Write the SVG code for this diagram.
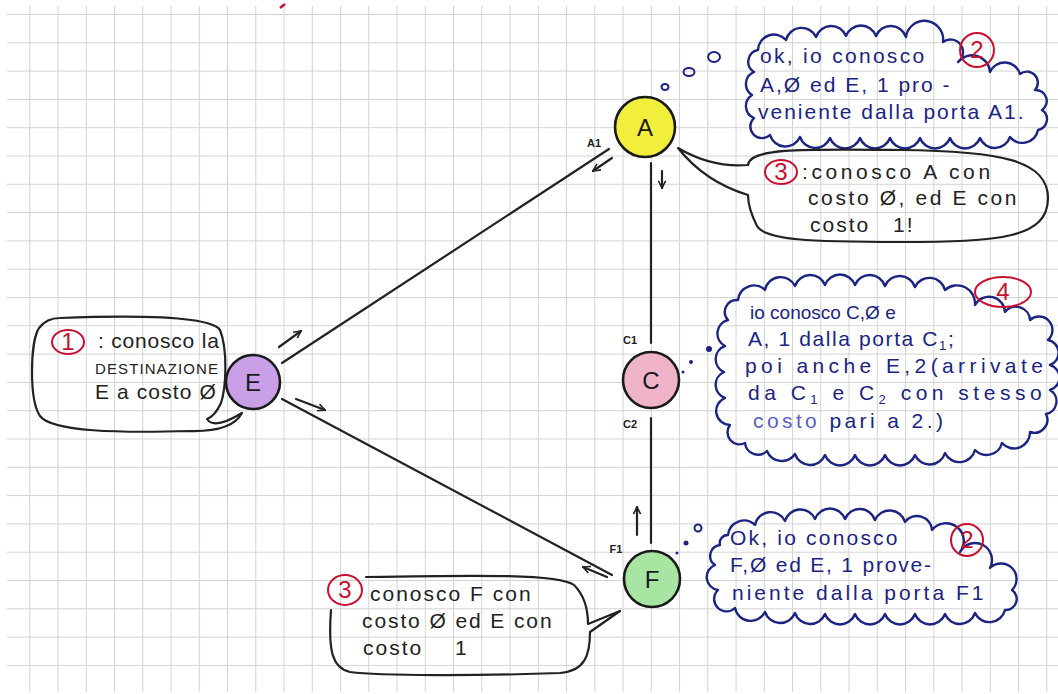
<svg xmlns="http://www.w3.org/2000/svg" width="1058" height="694" viewBox="0 0 1058 694">
<style>
.ink{fill:none;stroke:#222;stroke-width:2.2;stroke-linecap:round;stroke-linejoin:round}
.cloud{fill:none;stroke:#1b2482;stroke-width:2.4;stroke-linejoin:round}
.red{fill:none;stroke:#c8102e;stroke-width:2}
.rt{font-family:"Liberation Sans",Arial,sans-serif;font-size:24px;fill:#c8102e;text-anchor:middle}
.bt{font-family:"Liberation Sans",Arial,sans-serif;font-size:21px;fill:#1b2482}
.kt{font-family:"Liberation Sans",Arial,sans-serif;font-size:21px;fill:#222}
.lab{font-family:"Liberation Sans",Arial,sans-serif;font-size:11px;font-weight:bold;fill:#222;text-anchor:middle}
.node{stroke:#1a1a1a;stroke-width:2.6}
.nt{font-family:"Liberation Sans",Arial,sans-serif;font-size:24px;fill:#1a1a1a;text-anchor:middle}
.dot{fill:none;stroke:#1b2482;stroke-width:2}
</style>
<defs>
<pattern id="grid" x="29.3" y="14" width="28.25" height="28.3" patternUnits="userSpaceOnUse">
<path d="M0.5 0V28.3M0 0.5H28.25" stroke="#d2d2d2" stroke-width="1" fill="none"/>
</pattern>
<marker id="ah" viewBox="0 0 10 10" refX="9" refY="5" markerWidth="9" markerHeight="9" markerUnits="userSpaceOnUse" orient="auto">
<path d="M1,1 L9,5 L1,9" fill="none" stroke="#222" stroke-width="1.8"/>
</marker>
</defs>
<rect width="1058" height="694" fill="#ffffff"/>
<rect x="7" y="6" width="1051" height="686" fill="url(#grid)"/>
<path d="M280,8 L285,4" stroke="#c8102e" stroke-width="2.5" fill="none"/>

<g id="connectors">
<line class="ink" x1="282" y1="363" x2="609" y2="149"/>
<line class="ink" x1="282" y1="399" x2="612" y2="575"/>
<line class="ink" x1="651" y1="163" x2="651" y2="343"/>
<line class="ink" x1="651" y1="418" x2="651" y2="543"/>
<line class="ink" x1="279" y1="347" x2="301" y2="331" marker-end="url(#ah)"/>
<line class="ink" x1="296" y1="399" x2="325" y2="410" marker-end="url(#ah)"/>
<line class="ink" x1="612" y1="158" x2="593" y2="171" marker-end="url(#ah)"/>
<line class="ink" x1="662" y1="171" x2="662" y2="188" marker-end="url(#ah)"/>
<line class="ink" x1="637" y1="535" x2="637" y2="507" marker-end="url(#ah)"/>
<line class="ink" x1="607" y1="577" x2="583" y2="567" marker-end="url(#ah)"/>
<text class="lab" x="594" y="147">A1</text>
<text class="lab" x="630" y="344">C1</text>
<text class="lab" x="630" y="428">C2</text>
<text class="lab" x="616" y="553">F1</text>
</g>

<g id="node-A">
<circle class="node" cx="645" cy="127" r="30" fill="#f2ee3c"/>
<text class="nt" x="645" y="136">A</text>
</g>
<g id="node-C">
<circle class="node" cx="651" cy="380" r="28" fill="#efb4c9"/>
<text class="nt" x="651" y="389">C</text>
</g>
<g id="node-F">
<circle class="node" cx="652" cy="579" r="28" fill="#a8e4a2"/>
<text class="nt" x="652" y="588">F</text>
</g>
<g id="node-E">
<circle class="node" cx="253" cy="382" r="27" fill="#c9a0e8"/>
<text class="nt" x="253" y="391">E</text>
</g>

<g id="note-A-cloud">
<ellipse class="dot" cx="714" cy="57" rx="6" ry="5"/>
<ellipse class="dot" cx="689" cy="72" rx="5.5" ry="4"/>
<ellipse class="dot" cx="665" cy="87" rx="3.5" ry="3"/>
<path class="cloud" d="M758,50 A16,16 0 0 1 786,40 A16,16 0 0 1 816,37 A16,16 0 0 1 846,36 A16,16 0 0 1 876,36 A16,16 0 0 1 906,37 A16,16 0 0 1 943,42 A10,10 0 0 1 958,62 A18,18 0 0 1 990,72 A16,16 0 0 1 1020,74 A11,11 0 0 1 1035,90 A11,11 0 0 1 1042,110 A11,11 0 0 1 1038,130 A16,16 0 0 1 1010,137 A16,16 0 0 1 980,138 A16,16 0 0 1 950,138 A16,16 0 0 1 920,138 A16,16 0 0 1 890,138 A16,16 0 0 1 860,138 A16,16 0 0 1 830,138 A16,16 0 0 1 800,137 A16,16 0 0 1 770,135 A11,11 0 0 1 754,118 A13,13 0 0 1 752,95 A13,13 0 0 1 754,72 A12,12 0 0 1 758,50 Z"/>
<circle class="red" cx="977" cy="50" r="17"/>
<text class="rt" x="977" y="58">2</text>
<text class="bt" x="760" y="63" letter-spacing="2.3">ok, io conosco</text>
<text class="bt" x="760" y="92" letter-spacing="2">A,Ø ed E, 1 pro -</text>
<text class="bt" x="758" y="119" letter-spacing="2">veniente dalla porta A1.</text>
</g>

<g id="note-A-speech">
<path class="ink" d="M748,165 C750,148 800,149 900,150 C1000,151 1048,160 1048,198 C1048,238 1000,242 900,242 C810,242 765,240 757,226 C751,214 748,204 748,195 Q705,182 678,148 Q712,168 748,165 Z"/>
<ellipse class="red" cx="781" cy="172" rx="16" ry="12"/>
<text class="rt" x="781" y="180">3</text>
<text class="kt" x="802" y="179" letter-spacing="3.6">:conosco A con</text>
<text class="kt" x="808" y="205" letter-spacing="2.6">costo Ø, ed E con</text>
<text class="kt" x="810" y="232" letter-spacing="2">costo</text>
<text class="kt" x="893" y="232" letter-spacing="2">1!</text>
</g>

<g id="note-C-cloud">
<circle cx="709" cy="349" r="3" fill="#1b2482"/>
<circle cx="691" cy="362" r="2" fill="#1b2482"/>
<circle cx="683" cy="372" r="1.5" fill="#1b2482"/>
<path class="cloud" d="M738,300 A16,16 0 0 1 765,290 A16,16 0 0 1 795,286 A16,16 0 0 1 825,285 A16,16 0 0 1 855,285 A16,16 0 0 1 885,286 A16,16 0 0 1 915,287 A16,16 0 0 1 945,290 A18,18 0 0 1 975,305 A16,16 0 0 1 1005,312 A14,14 0 0 1 1030,320 A13,13 0 0 1 1048,340 A13,13 0 0 1 1050,365 A13,13 0 0 1 1050,390 A13,13 0 0 1 1046,414 A13,13 0 0 1 1030,432 A16,16 0 0 1 1002,443 A16,16 0 0 1 975,450 A16,16 0 0 1 945,453 A16,16 0 0 1 915,455 A16,16 0 0 1 885,455 A16,16 0 0 1 855,455 A16,16 0 0 1 825,455 A16,16 0 0 1 795,454 A16,16 0 0 1 767,451 A13,13 0 0 1 745,443 A12,12 0 0 1 730,425 A14,14 0 0 1 725,398 A14,14 0 0 1 724,372 A14,14 0 0 1 725,346 A14,14 0 0 1 728,320 A12,12 0 0 1 738,300 Z"/>
<ellipse class="red" cx="1003" cy="292" rx="28" ry="15"/>
<text class="rt" x="1003" y="300">4</text>
<text class="bt" x="750" y="319" style="font-size:19px">io conosco C,Ø e</text>
<text class="bt" x="748" y="346" letter-spacing="1.6">A, 1 dalla porta C<tspan style="font-size:13px" dy="4">1</tspan><tspan dy="-4">;</tspan></text>
<text class="bt" x="745" y="373" letter-spacing="4.4">poi anche E,2(arrivate</text>
<text class="bt" x="748" y="400" letter-spacing="4.5">da C<tspan style="font-size:13px" dy="4">1</tspan><tspan dy="-4"> e C</tspan><tspan style="font-size:13px" dy="4">2</tspan><tspan dy="-4"> con stesso</tspan></text>
<text class="bt" x="753" y="428" letter-spacing="3.4"><tspan fill="#5a5fc4">costo</tspan> pari a 2.)</text>
</g>

<g id="note-F-cloud">
<circle class="dot" cx="698" cy="528" r="3.5"/>
<circle cx="686" cy="543" r="2.5" fill="#1b2482"/>
<circle cx="677" cy="553" r="1.5" fill="#1b2482"/>
<path class="cloud" d="M728,535 A16,16 0 0 1 755,525 A16,16 0 0 1 785,521 A16,16 0 0 1 815,519 A16,16 0 0 1 845,519 A16,16 0 0 1 875,520 A16,16 0 0 1 905,522 A15,15 0 0 1 932,530 A14,14 0 0 1 960,552 A16,16 0 0 1 990,568 A14,14 0 0 1 1012,590 A11,11 0 0 1 1005,610 A16,16 0 0 1 975,613 A16,16 0 0 1 945,614 A16,16 0 0 1 915,614 A16,16 0 0 1 885,614 A16,16 0 0 1 855,614 A16,16 0 0 1 825,614 A16,16 0 0 1 795,613 A16,16 0 0 1 765,612 A16,16 0 0 1 735,608 A11,11 0 0 1 718,590 A13,13 0 0 1 715,565 A11,11 0 0 1 720,545 A8,8 0 0 1 728,535 Z"/>
<circle class="red" cx="967" cy="540" r="16"/>
<text class="rt" x="967" y="548">2</text>
<text class="bt" x="730" y="545" letter-spacing="2.2">Ok, io conosco</text>
<text class="bt" x="730" y="572" letter-spacing="1.8">F,Ø ed E, 1 prove-</text>
<text class="bt" x="732" y="600" letter-spacing="3">niente dalla porta F1</text>
</g>

<g id="note-E-speech">
<path class="ink" d="M60,318 C140,315 210,316 220,330 C228,350 226,388 221,403 Q215,416 207,419 Q214,430 242,413 Q232,432 190,431 C120,433 52,432 40,416 C29,400 30,342 39,328 C45,320 52,318 60,318 Z"/>
<ellipse class="red" cx="68" cy="342" rx="16" ry="12"/>
<text class="rt" x="68" y="350">1</text>
<text class="kt" x="98" y="348" letter-spacing="0.8">: conosco la</text>
<text class="kt" x="95" y="374" style="font-size:15px" letter-spacing="1.1">DESTINAZIONE</text>
<text class="kt" x="95" y="399" letter-spacing="1.1">E a costo Ø</text>
</g>

<g id="note-F-speech">
<path class="ink" d="M366,577 C480,575 560,574 574,585 C584,595 588,610 588,624 L620,611 L590,632 C590,655 585,671 560,673 C480,676 380,676 350,672 C332,668 328,650 331,610"/>
<ellipse class="red" cx="345" cy="590" rx="17" ry="15"/>
<text class="rt" x="345" y="598">3</text>
<text class="kt" x="370" y="601" letter-spacing="2">conosco F con</text>
<text class="kt" x="362" y="628" letter-spacing="1.9">costo Ø ed E con</text>
<text class="kt" x="363" y="655" letter-spacing="2">costo</text>
<text class="kt" x="455" y="655">1</text>
</g>
</svg>
